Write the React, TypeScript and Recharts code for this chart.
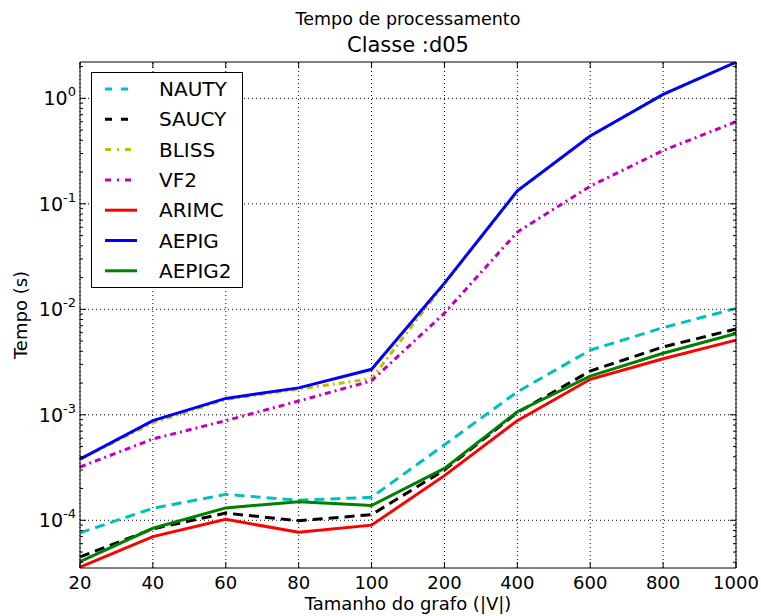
import { Line, LineChart, ReferenceLine, XAxis, YAxis } from "recharts";

const FONT = "DejaVu Sans, sans-serif";

const sizes = ["20", "40", "60", "80", "100", "200", "400", "600", "800", "1000"];

const nauty = [7.6e-5, 1.3e-4, 1.76e-4, 1.55e-4, 1.65e-4, 5.2e-4, 1.65e-3, 4.1e-3, 6.7e-3, 1.02e-2];
const saucy = [4.5e-5, 8.3e-5, 1.17e-4, 9.9e-5, 1.13e-4, 3.0e-4, 1.05e-3, 2.6e-3, 4.4e-3, 6.5e-3];
const bliss = [3.8e-4, 8.4e-4, 1.4e-3, 1.75e-3, 2.2e-3, 1.75e-2, 0.132, 0.44, 1.09, 2.2];
const vf2 = [3.2e-4, 5.9e-4, 8.8e-4, 1.35e-3, 2.1e-3, 9.2e-3, 0.054, 0.147, 0.32, 0.6];
const arimc = [3.6e-5, 7.0e-5, 1.02e-4, 7.7e-5, 9.0e-5, 2.65e-4, 8.8e-4, 2.17e-3, 3.4e-3, 5.1e-3];
const aepig = [3.8e-4, 8.8e-4, 1.43e-3, 1.8e-3, 2.7e-3, 1.77e-2, 0.133, 0.44, 1.09, 2.2];
const aepig2 = [4.05e-5, 8.4e-5, 1.31e-4, 1.5e-4, 1.38e-4, 3.1e-4, 1.07e-3, 2.33e-3, 3.83e-3, 5.9e-3];

const majorTicks = [1e-4, 1e-3, 1e-2, 1e-1, 1];
const yTicks = [
  4e-5, 5e-5, 6e-5, 7e-5, 8e-5, 9e-5,
  1e-4, 2e-4, 3e-4, 4e-4, 5e-4, 6e-4, 7e-4, 8e-4, 9e-4,
  1e-3, 2e-3, 3e-3, 4e-3, 5e-3, 6e-3, 7e-3, 8e-3, 9e-3,
  1e-2, 2e-2, 3e-2, 4e-2, 5e-2, 6e-2, 7e-2, 8e-2, 9e-2,
  1e-1, 2e-1, 3e-1, 4e-1, 5e-1, 6e-1, 7e-1, 8e-1, 9e-1,
  1, 2,
];

const series = [
  { key: "NAUTY", values: nauty, color: "#00bfbf", dash: "10 6", legendDash: "7 9" },
  { key: "SAUCY", values: saucy, color: "#000000", dash: "10 6", legendDash: "7 9" },
  { key: "BLISS", values: bliss, color: "#bfbf00", dash: "6 4 2 4", legendDash: "6 6 2 6" },
  { key: "VF2", values: vf2, color: "#bf00bf", dash: "6 4 2 4", legendDash: "6 6 2 6" },
  { key: "ARIMC", values: arimc, color: "#ff0000", dash: undefined, legendDash: undefined },
  { key: "AEPIG", values: aepig, color: "#0000ff", dash: undefined, legendDash: undefined },
  { key: "AEPIG2", values: aepig2, color: "#008000", dash: undefined, legendDash: undefined },
];

const data = sizes.map((s, i) => {
  const row: Record<string, string | number> = { size: s };
  series.forEach((se) => (row[se.key] = se.values[i]));
  return row;
});

const isMajor = (v: number) => Math.abs(Math.log10(v) - Math.round(Math.log10(v))) < 1e-6;

function LeftTick(props: any) {
  const { x, y, payload } = props;
  const v = payload.value as number;
  const major = isMajor(v);
  return (
    <g>
      <line x1={x} x2={x + (major ? 6 : 3)} y1={y} y2={y} stroke="#000" strokeWidth={1} />
      {major && (
        <text x={x - 4} y={y + 7} textAnchor="end" fontFamily={FONT} fontSize={19} fill="#000">
          10
          <tspan dy={-9} fontSize={13}>
            {Math.round(Math.log10(v))}
          </tspan>
        </text>
      )}
    </g>
  );
}

function RightTick(props: any) {
  const { x, y, payload } = props;
  const major = isMajor(payload.value as number);
  return <line x1={x} x2={x - (major ? 6 : 3)} y1={y} y2={y} stroke="#000" strokeWidth={1} />;
}

function BottomTick(props: any) {
  const { x, y, payload } = props;
  return (
    <g>
      <line x1={x} x2={x} y1={y} y2={y - 6} stroke="#000" strokeWidth={1} />
      <text x={x} y={y + 21} textAnchor="middle" fontFamily={FONT} fontSize={18} fill="#000">
        {payload.value}
      </text>
    </g>
  );
}

function TopTick(props: any) {
  const { x, y } = props;
  return <line x1={x} x2={x} y1={y} y2={y + 6} stroke="#000" strokeWidth={1} />;
}

function LegendBox() {
  return (
    <svg width={152} height={216} style={{ display: "block" }}>
      <rect x={0.5} y={0.5} width={151} height={215} fill="#fff" stroke="#000" strokeWidth={1} />
      {series.map((s, i) => {
        const cy = 17 + i * 30.3;
        return (
          <g key={s.key}>
            <line x1={14} x2={46} y1={cy} y2={cy} stroke={s.color} strokeWidth={3} strokeDasharray={s.legendDash} />
            <text x={68} y={cy + 7} fontFamily={FONT} fontSize={20} fill="#000">
              {s.key}
            </text>
          </g>
        );
      })}
    </svg>
  );
}

export default function App() {
  return (
    <div style={{ position: "absolute", left: 0, top: 0, width: 761, height: 616, background: "#fff" }}>
      <div style={{ position: "absolute", left: 0, top: 1, width: 816, textAlign: "center", fontFamily: FONT, fontSize: 17.5, lineHeight: "36px" }}>
        Tempo de processamento
      </div>
      <div style={{ position: "absolute", left: 0, top: 32, width: 816, textAlign: "center", fontFamily: FONT, fontSize: 21, lineHeight: "26px" }}>
        Classe :d05
      </div>
      <div style={{ position: "absolute", left: 0, top: 593, width: 816, textAlign: "center", fontFamily: FONT, fontSize: 18, lineHeight: "22px" }}>
        Tamanho do grafo (|V|)
      </div>
      <div
        style={{
          position: "absolute",
          left: 20,
          top: 315,
          transform: "translate(-50%, -50%) rotate(-90deg)",
          fontFamily: FONT,
          fontSize: 18,
          whiteSpace: "nowrap",
        }}
      >
        Tempo (s)
      </div>
      <div style={{ position: "absolute", left: 0, top: 0 }}>
        <LineChart width={761} height={616} data={data} margin={{ top: 0, right: 0, bottom: 0, left: 0 }}>
          <XAxis
            xAxisId="bottom"
            dataKey="size"
            type="category"
            orientation="bottom"
            height={48}
            interval={0}
            tickSize={0}
            tickMargin={0}
            tick={<BottomTick />}
            axisLine={{ stroke: "#000", strokeWidth: 1 }}
            tickLine={false}
          />
          <XAxis
            xAxisId="top"
            dataKey="size"
            type="category"
            orientation="top"
            height={62}
            interval={0}
            tickSize={0}
            tickMargin={0}
            tick={<TopTick />}
            axisLine={{ stroke: "#000", strokeWidth: 1 }}
            tickLine={false}
          />
          <YAxis
            yAxisId="left"
            orientation="left"
            width={80}
            scale="log"
            type="number"
            domain={[3.53e-5, 2.21]}
            allowDataOverflow
            ticks={yTicks}
            interval={0}
            tickSize={0}
            tickMargin={0}
            tick={<LeftTick />}
            axisLine={{ stroke: "#000", strokeWidth: 1 }}
            tickLine={false}
          />
          <YAxis
            yAxisId="right"
            orientation="right"
            width={25}
            scale="log"
            type="number"
            domain={[3.53e-5, 2.21]}
            allowDataOverflow
            ticks={yTicks}
            interval={0}
            tickSize={0}
            tickMargin={0}
            tick={<RightTick />}
            axisLine={{ stroke: "#000", strokeWidth: 1 }}
            tickLine={false}
          />
          {majorTicks.map((t) => (
            <ReferenceLine key={`y${t}`} xAxisId="bottom" yAxisId="left" y={t} stroke="#000" strokeWidth={1} strokeDasharray="1 3" />
          ))}
          {sizes.map((s) => (
            <ReferenceLine key={`x${s}`} xAxisId="bottom" yAxisId="left" x={s} stroke="#000" strokeWidth={1} strokeDasharray="1 3" />
          ))}
          {series.map((s) => (
            <Line
              key={s.key}
              xAxisId="bottom"
              yAxisId="left"
              dataKey={s.key}
              type="linear"
              stroke={s.color}
              strokeWidth={3}
              strokeDasharray={s.dash}
              dot={false}
              activeDot={false}
              isAnimationActive={false}
            />
          ))}
        </LineChart>
      </div>
      <div style={{ position: "absolute", left: 91, top: 72 }}>
        <LegendBox />
      </div>
    </div>
  );
}
